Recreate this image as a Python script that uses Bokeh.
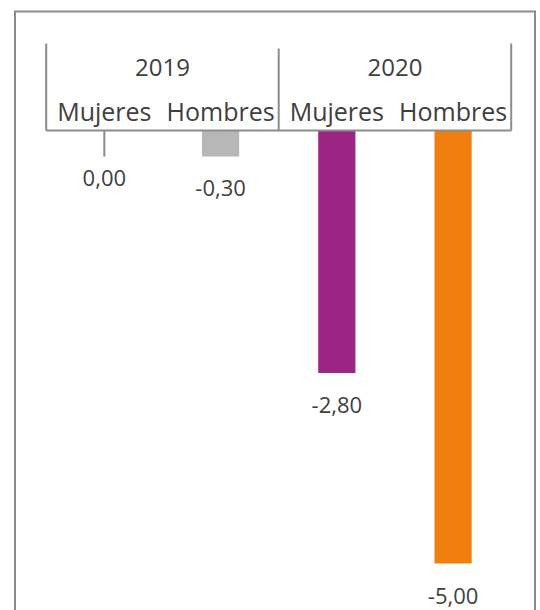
import math
from bokeh.plotting import figure
from bokeh.models import ColumnDataSource, Range1d
from bokeh.core.properties import value
from bokeh.embed import file_html
from bokeh.resources import INLINE

# ---- data ----
years = ["2019", "2019", "2020", "2020"]
groups = ["Mujeres", "Hombres", "Mujeres", "Hombres"]
values = [0.00, -0.30, -2.80, -5.00]
bar_colors = ["#b7b7b7", "#b7b7b7", "#9c2583", "#f07f10"]

# ---- geometry (page pixels) ----
W, H = 540, 610
PAGE = 0
PX_PER_CAT = 116.25
PX_PER_UNIT = 86.6
AXIS_LEFT = 45.7
ZERO_Y = 130.0

x_start = -0.5 - (AXIS_LEFT - PAGE) / PX_PER_CAT
x_end = x_start + W / PX_PER_CAT
y_end = (ZERO_Y - PAGE) / PX_PER_UNIT
y_start = y_end - H / PX_PER_UNIT


def px2x(px):
    return x_start + (px - PAGE) / PX_PER_CAT


def px2y(py):
    return y_end - (py - PAGE) / PX_PER_UNIT


LINE = "#8c8c8c"
TEXT = "#404040"
FONT = value("Open Sans")

p = figure(width=W, height=H, x_range=Range1d(x_start, x_end),
           y_range=Range1d(y_start, y_end), output_backend="svg",
           toolbar_location=None, min_border=0, x_axis_location=None,
           y_axis_location=None, outline_line_color=None)
p.grid.visible = False

n = len(values)
idx = list(range(n))

# outer frame (top, left, right; bottom runs off the page)
p.line(x=[px2x(14.5), px2x(14.5), px2x(534.5), px2x(534.5)],
       y=[px2y(640), px2y(11), px2y(11), px2y(640)],
       line_color=LINE, line_width=2, line_join="miter")

# bars
src = ColumnDataSource(dict(x=idx, v=values, c=bar_colors))
p.vbar(x="x", width=0.32, top=0, bottom="v", fill_color="c", line_color=None, source=src)

# leader line for zero values
zero_x = [i for i, v in zip(idx, values) if v == 0]
p.ray(x=zero_x, y=[0] * len(zero_x), length=26, length_units="screen",
      angle=-math.pi / 2, line_color=LINE, line_width=2)

# header box lines
edges = [-0.5]
for i in range(1, n):
    if years[i] != years[i - 1]:
        edges.append(i - 0.5)
edges.append(n - 0.5)
tops = [px2y(43) if e in (-0.5, n - 0.5) else px2y(48) for e in edges]
p.segment(x0=edges, y0=[0] * len(edges), x1=edges, y1=tops, line_color=LINE, line_width=2)
p.segment(x0=[-0.5], y0=[0], x1=[n - 0.5], y1=[0], line_color=LINE, line_width=2)

# category labels
p.text(x=idx, y=[0] * n, text=groups, text_align="center", text_baseline="alphabetic",
       y_offset=-20, text_font=FONT, text_font_size="25px", text_color=TEXT)

# year labels
uy = []
for y in years:
    if y not in uy:
        uy.append(y)
yx = [sum(i for i in idx if years[i] == y) / years.count(y) for y in uy]
p.text(x=yx, y=[0] * len(uy), text=uy, text_align="center", text_baseline="alphabetic",
       y_offset=-63.5, text_font=FONT, text_font_size="24px", text_color=TEXT)

# data labels
lab = [("%.2f" % v).replace(".", ",") for v in values]
offs = [47 if v == 0 else 32 for v in values]
lsrc = ColumnDataSource(dict(x=idx, y=values, t=lab, o=offs))
p.text(x="x", y="y", text="t", y_offset="o", source=lsrc, text_align="center",
       text_baseline="alphabetic", text_font=FONT, text_font_size="22px", text_color=TEXT)

open("out.html", "w").write(file_html(p, INLINE))
